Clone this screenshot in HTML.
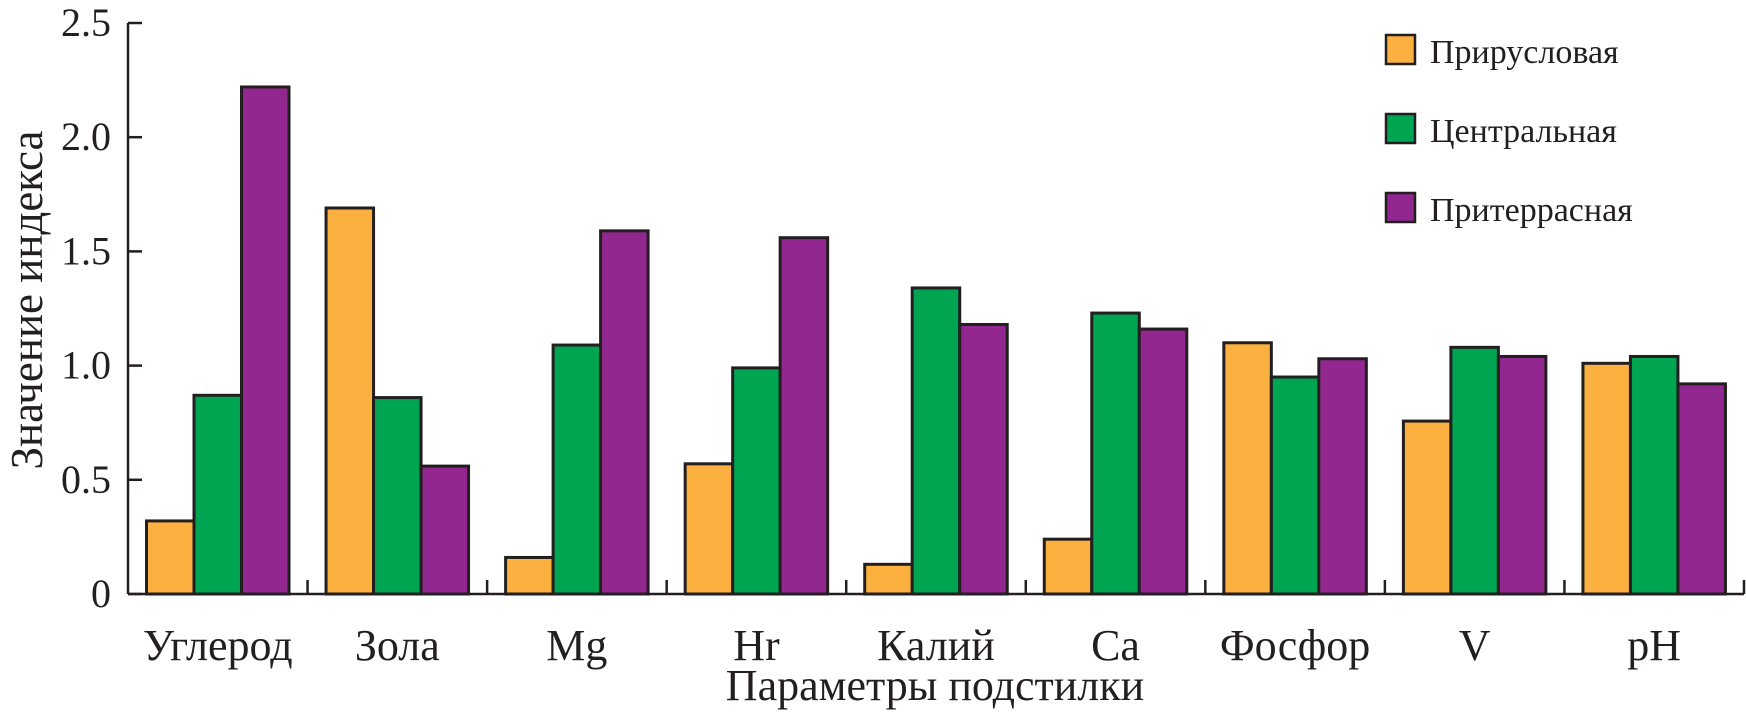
<!DOCTYPE html>
<html><head><meta charset="utf-8"><style>
html,body{margin:0;padding:0;background:#fff;}
svg{display:block;}
text{font-family:"Liberation Serif",serif;fill:#231f20;}
</style></head><body>
<svg id="chart" width="1746" height="715" viewBox="0 0 1746 715" xmlns="http://www.w3.org/2000/svg"></svg>
<script>
const categories = ["Углерод","Зола","Mg","Hr","Калий","Ca","Фосфор","V","pH"];
const seriesNames = ["Прирусловая","Центральная","Притеррасная"];
const seriesA = [0.32,1.69,0.16,0.57,0.13,0.24,1.10,0.757,1.01];
const seriesB = [0.87,0.86,1.09,0.99,1.34,1.23,0.95,1.08,1.04];
const seriesC = [2.22,0.56,1.59,1.56,1.18,1.16,1.03,1.04,0.92];
const yTicks = [0,0.5,1.0,1.5,2.0,2.5];
const yTickLabels = ["0","0.5","1.0","1.5","2.0","2.5"];

const NS = "http://www.w3.org/2000/svg";
const svg = document.getElementById('chart');
const colors = ["#fbb040","#00a551","#92278f"];
const X0 = 128, X1 = 1744, Y0 = 594, Ytop = 23, YMAX = 2.5;
const groupW = (X1 - X0) / categories.length;
const barW = 47.5, groupPad = 18.5;
function yScale(v){ return Y0 - (v / YMAX) * (Y0 - Ytop); }
function xGroup(i){ return X0 + i * groupW; }
function mk(tag, attrs, parent){
  const e = document.createElementNS(NS, tag);
  for (const k in attrs) e.setAttribute(k, attrs[k]);
  (parent || svg).appendChild(e);
  return e;
}
const series = [seriesA, seriesB, seriesC];
series.forEach((s, si) => {
  s.forEach((v, i) => {
    const x = xGroup(i) + groupPad + si * barW;
    const r = mk('rect', {x: x, y: yScale(v), width: barW, height: Y0 - yScale(v), fill: colors[si], stroke: "#231f20", "stroke-width": 3});
    
    
  });
});
const ya = mk('line', {x1: X0, y1: Ytop, x2: X0, y2: Y0, stroke: "#231f20", "stroke-width": 2.5});


const xa = mk('line', {x1: X0, y1: Y0, x2: X1, y2: Y0, stroke: "#231f20", "stroke-width": 2.5});


yTicks.forEach((t, i) => {
  const y = yScale(t);
  const tk = mk('line', {x1: X0, y1: y, x2: X0 + 14, y2: y, stroke: "#231f20", "stroke-width": 2.5});
  
  
  const tl = mk('text', {x: 111, y: y + 13, "text-anchor": "end", "font-size": 40});
  tl.textContent = yTickLabels[i];
  
  
});
for (let i = 1; i <= categories.length; i++) {
  const x = xGroup(i);
  const tk = mk('line', {x1: x, y1: Y0, x2: x, y2: Y0 - 14, stroke: "#231f20", "stroke-width": 2.5});
  
  
}
categories.forEach((c, i) => {
  const t = mk('text', {x: xGroup(i) + groupPad + 1.5 * barW, y: 660, "text-anchor": "middle", "font-size": 44});
  t.textContent = c;
  
  
});
const xt = mk('text', {x: 935, y: 700, "text-anchor": "middle", "font-size": 44});
xt.textContent = "Параметры подстилки";


const yt = mk('text', {x: 0, y: 0, "text-anchor": "middle", "font-size": 45, transform: "translate(42,300) rotate(-90)"});
yt.textContent = "Значение индекса";


const legY = [35, 114, 193];
seriesNames.forEach((n, si) => {
  const r = mk('rect', {x: 1386, y: legY[si], width: 29, height: 29, fill: colors[si], stroke: "#231f20", "stroke-width": 2.5});
  
  
  const t = mk('text', {x: 1430, y: legY[si] + 28, "font-size": 34});
  t.textContent = n;
  
  
});
</script>
</body></html>
